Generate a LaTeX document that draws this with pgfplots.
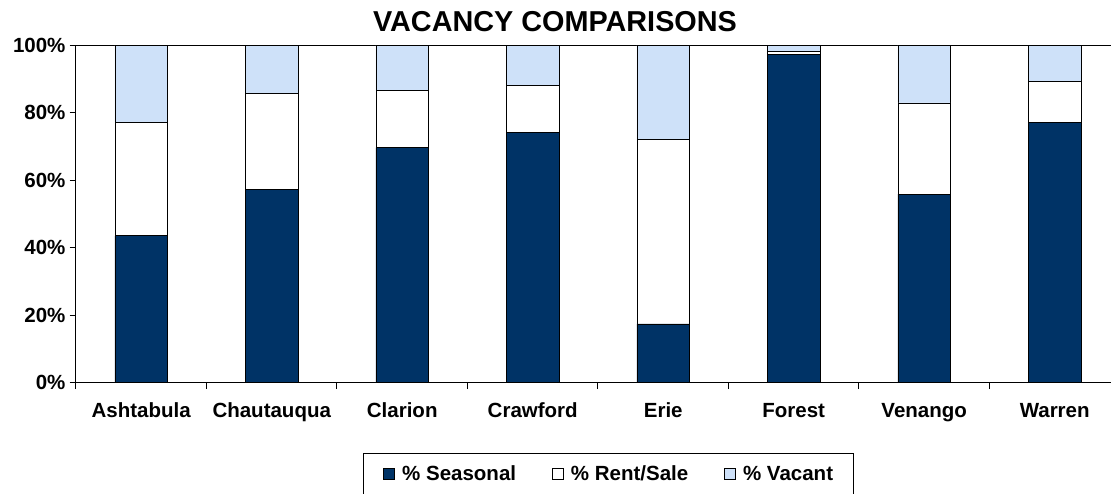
\documentclass[border=0pt]{standalone}
\usepackage{pgfplots}
\pgfplotsset{compat=1.18}
\usepackage{fontspec}
\setmainfont{Liberation Sans}
\definecolor{seas}{RGB}{0,51,102}
\definecolor{vac}{RGB}{206,225,249}
\begin{document}
\begin{tikzpicture}[x=1pt,y=1pt]
\useasboundingbox (0,0) rectangle (1111,493);
\node[anchor=base, font=\fontsize{28.8}{30}\selectfont\bfseries, inner sep=0pt] at (555,461.3) {VACANCY COMPARISONS};
\begin{axis}[
  at={(76pt,110.3pt)}, anchor=south west,
  scale only axis, width=1044pt, height=337.4pt,
  xmin=-0.5, xmax=7.5, ymin=0, ymax=100,
  ybar stacked, bar width=52.5pt,
  axis line style={black, line width=1pt},
  xtick={0,...,7},
  xticklabels={Ashtabula,Chautauqua,Clarion,Crawford,Erie,Forest,Venango,Warren},
  minor xtick={-0.5,0.5,...,7.5},
  ytick={0,20,...,100},
  minor ytick={0,20,...,100},
  yticklabels={0\%,20\%,40\%,60\%,80\%,100\%},
  xtick pos=bottom, ytick pos=left,
  tick align=outside,
  major tick length=0pt, minor tick length=6.5pt,
  tick style={black, line width=1pt},
  ticklabel style={font=\fontsize{20.5}{22}\selectfont\bfseries},
  xticklabel style={anchor=base, yshift=-35pt},
  yticklabel style={anchor=east, xshift=-7pt},
  legend columns=3,
  legend style={at={(0.2749,-0.2084)}, anchor=north west, draw=black, line width=0.8pt,
    font=\fontsize{20.5}{22}\selectfont\bfseries,
    inner xsep=20pt, inner ysep=12.5pt,
    nodes={inner sep=0pt},
    /tikz/every odd column/.append style={column sep=7pt},
    /tikz/every even column/.append style={column sep=36pt}},
  sq/.style={legend image code/.code={\draw[##1,draw=black,line width=0.8pt] (0pt,-5.5pt) rectangle (11pt,5.5pt);}},
]
\addplot[fill=seas, draw=black, line width=0.9pt, sq] coordinates {(0,43.5) (1,57.2) (2,69.7) (3,74.3) (4,17.4) (5,97.2) (6,55.9) (7,77.2)};
\addplot[fill=white, draw=black, line width=0.9pt, sq] coordinates {(0,33.6) (1,28.6) (2,16.8) (3,13.7) (4,54.6) (5,1.0) (6,27.0) (7,12.2)};
\addplot[fill=vac, draw=black, line width=0.9pt, sq] coordinates {(0,22.9) (1,14.2) (2,13.5) (3,12.0) (4,28.0) (5,1.8) (6,17.1) (7,10.6)};
\legend{\% Seasonal,\% Rent/Sale,\% Vacant}
\end{axis}
\end{tikzpicture}
\end{document}
